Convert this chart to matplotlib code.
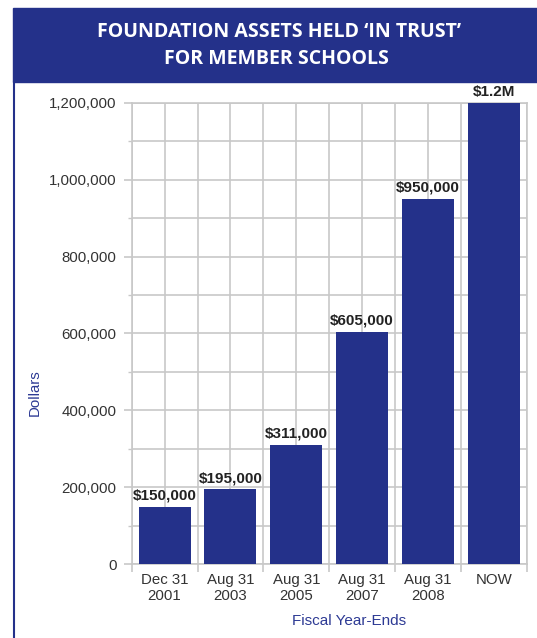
import numpy as np
import matplotlib
matplotlib.use("Agg")
from matplotlib import pyplot as plt
from matplotlib.patches import Rectangle
from matplotlib.lines import Line2D

# data
periods = ["Dec 31\n2001", "Aug 31\n2003", "Aug 31\n2005", "Aug 31\n2007", "Aug 31\n2008", "NOW"]
assets = [150000, 195000, 311000, 605000, 950000, 1200000]
bar_labels = ["$150,000", "$195,000", "$311,000", "$605,000", "$950,000", "$1.2M"]

navy = "#24318a"
grid_col = "#c8c8c8"

plt.rcParams['font.family'] = ['Liberation Sans', 'DejaVu Sans']

fig = plt.figure(figsize=(5.37, 6.38), dpi=100)
W, H = 537.0, 638.0

# title band and left border
fig.patches.append(Rectangle((13 / W, 1 - 82 / H), 1 - 13 / W, 74 / H,
                             transform=fig.transFigure, color=navy, zorder=0))
fig.lines.append(Line2D([13.5 / W, 13.5 / W], [0, 1 - 82 / H],
                        transform=fig.transFigure, color=navy, lw=1.5))
fig.text(279 / W, 1 - 32 / H, "FOUNDATION ASSETS HELD \u2018IN TRUST\u2019",
         ha='center', va='center', color='white', fontsize=14,
         fontweight='bold', family=['Open Sans', 'DejaVu Sans'])
fig.text(276.5 / W, 1 - 59 / H, "FOR MEMBER SCHOOLS",
         ha='center', va='center', color='white', fontsize=14,
         fontweight='bold', family=['Open Sans', 'DejaVu Sans'])

ax = fig.add_axes([131.7 / W, 1 - 564.3 / H, 395 / W, 461.6 / H])

x = np.arange(len(periods))
bars = ax.bar(x, assets, width=0.79, color=navy, zorder=3)

for b, lab in zip(bars, bar_labels):
    ax.annotate(lab, (b.get_x() + b.get_width() / 2, b.get_height()),
                xytext=(0, 3), textcoords='offset points',
                ha='center', va='bottom', fontsize=11, fontweight='bold',
                color='#222222', zorder=4)

ax.set_xlim(-0.5, 5.5)
ax.set_ylim(0, 1200000)

# y ticks and grid
ax.set_yticks(np.arange(0, 1200001, 200000))
ax.set_yticks(np.arange(100000, 1200000, 200000), minor=True)
ax.set_yticklabels([f"{v:,}" for v in range(0, 1200001, 200000)])
ax.tick_params(axis='y', which='major', length=6, width=1.2, color=grid_col,
               labelsize=10.8, labelcolor='#333333', pad=5)
ax.tick_params(axis='y', which='minor', length=3, width=1, color=grid_col)

# x ticks: labels at centres, grid at category edges
ax.set_xticks(x)
ax.set_xticklabels(periods)
ax.set_xticks(np.arange(-0.5, 6, 1), minor=True)
ax.tick_params(axis='x', which='major', length=0, labelsize=10.8,
               labelcolor='#333333', pad=6)
ax.tick_params(axis='x', which='minor', length=6, width=1.2, color=grid_col)

ax.grid(True, which='both', color=grid_col, lw=1.2, zorder=0)
ax.set_axisbelow(True)
for s in ax.spines.values():
    s.set_color(grid_col)
    s.set_linewidth(1.2)

fig.text(35 / W, 1 - 393 / H, "Dollars", rotation=90, ha='center', va='center',
         color='#2d3a94', fontsize=10.8)
fig.text(349 / W, 1 - 621 / H, "Fiscal Year-Ends", ha='center', va='center',
         color='#2d3a94', fontsize=11)

fig.savefig("out.png", dpi=100)
